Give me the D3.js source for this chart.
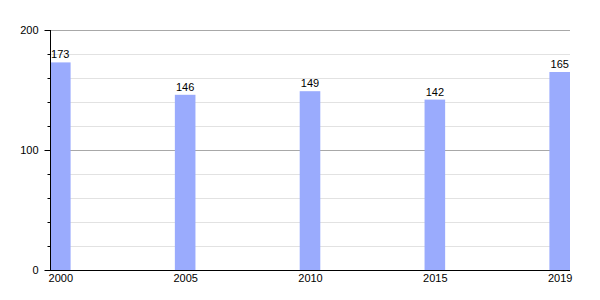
<!DOCTYPE html>
<html><head><meta charset="utf-8">
<script src="https://cdn.jsdelivr.net/npm/d3@7"></script>
<style>body{margin:0;background:#fff}svg{display:block}text{font-family:"Liberation Sans",Arial,sans-serif;font-size:11px;fill:#000}</style>
</head><body><svg id="c" width="600" height="300"></svg>
<script>
const years = ["2000","2005","2010","2015","2019"];
const values = [173,146,149,142,165];
const yTicksMajor = [0,100,200];
const yTicksMinor = d3.range(0,201,20);

const svg = d3.select("#c");
const L=50, R=570, T=30, B=270, bw=20.6;
const y = d3.scaleLinear().domain([0,200]).range([B,T]);
const x = d3.scalePoint().domain(years).range([L+bw/2, R-bw/2]).padding(0);

// gridlines
svg.append("g").selectAll("line").data(yTicksMinor.filter(v=>v>0 && yTicksMajor.indexOf(v)<0)).join("line")
  .attr("x1",L).attr("x2",R).attr("y1",d=>y(d)+0.5).attr("y2",d=>y(d)+0.5).attr("stroke","#e2e2e2");
svg.append("g").selectAll("line").data(yTicksMajor.filter(v=>v>0)).join("line")
  .attr("x1",L).attr("x2",R).attr("y1",d=>y(d)+0.5).attr("y2",d=>y(d)+0.5).attr("stroke","#a8a8a8");

// bars
svg.append("g").selectAll("rect").data(values).join("rect")
  .attr("x",(d,i)=>x(years[i])-bw/2).attr("width",bw)
  .attr("y",d=>y(d)).attr("height",d=>B-y(d)).attr("fill","#9aabfd");

// value labels
svg.append("g").selectAll("text").data(values).join("text")
  .attr("x",(d,i)=>x(years[i])).attr("y",d=>y(d)-4).attr("text-anchor","middle").text(d=>d);

// y axis
const ya = svg.append("g").attr("transform",`translate(${L+0.5},0)`);
ya.call(d3.axisLeft(y).tickValues(yTicksMinor).tickSize(3).tickFormat(""))
ya.select(".domain").remove();
ya.selectAll(".tick line").attr("stroke","#000");
const ymaj = svg.append("g").attr("transform",`translate(${L+0.5},0)`);
ymaj.call(d3.axisLeft(y).tickValues(yTicksMajor).tickSize(6).tickPadding(6));
ymaj.select(".domain").remove();
ymaj.selectAll(".tick line").attr("stroke","#000");
ymaj.selectAll(".tick text").style("font-size","11px").attr("font-family",null);
svg.append("line").attr("x1",L+0.5).attr("x2",L+0.5).attr("y1",T).attr("y2",B+1).attr("stroke","#000");

// x axis
svg.append("line").attr("x1",L).attr("x2",R).attr("y1",B+0.5).attr("y2",B+0.5).attr("stroke","#000");
const xa = svg.append("g").attr("transform",`translate(0,${B})`);
xa.call(d3.axisBottom(x).tickSize(0).tickPadding(4));
xa.select(".domain").remove();
xa.selectAll(".tick text").style("font-size","11px").attr("font-family",null);
</script></body></html>
